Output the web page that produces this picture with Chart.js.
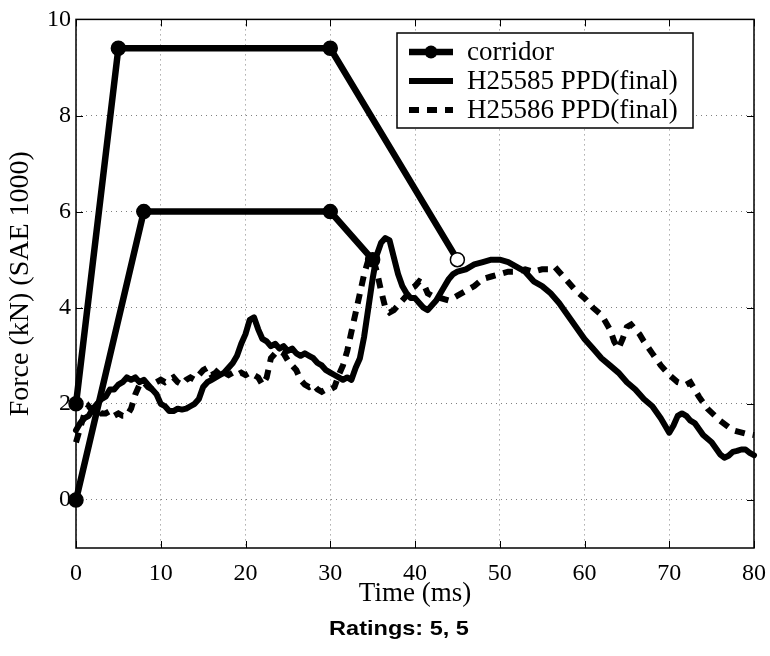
<!DOCTYPE html>
<html><head><meta charset="utf-8">
<script src="https://cdn.jsdelivr.net/npm/chart.js@4/dist/chart.umd.min.js"></script>
<style>html,body{margin:0;padding:0;background:#fff}#wrap{width:770px;height:656px}</style>
</head><body><div id="wrap"><canvas id="c" width="770" height="656"></canvas></div>
<script>
// ---------- data ----------
const corridorLowerX = [0, 8, 30, 35];
const corridorLowerY = [0, 6, 6, 5];
const corridorUpperX = [0, 5, 30, 45];
const corridorUpperY = [2, 9.4, 9.4, 5];

const timeA = [0,0.5,1,1.5,2,2.5,3,3.5,4,4.5,5,5.5,6,6.5,7,7.5,8,8.5,9,9.5,10,10.5,11,11.5,12,12.5,13,13.5,14,14.5,15,15.5,16,16.5,17,17.5,18,18.5,19,19.5,20,20.5,21,21.5,22,22.5,23,23.5,24,24.5,25,25.5,26,26.5,27,27.5,28,28.5,29,29.5,30,30.5,31,31.5,32,32.5,33,33.5,34,34.5,35,35.5,36,36.5,37,37.5,38,38.5,39,39.5,40,40.5,41,41.5,42,42.5,43,43.5,44,44.5,45,46,47,48,49,50,51,52,53,54,55,56,57,58,59,60,61,62,63,64,65,66,67,68,69,70,70.5,71,71.5,72,72.5,73,74,75,76,76.5,77,77.5,78,78.5,79,79.5,80];
const forceA = [1.45,1.6,1.7,1.75,1.9,2.0,2.1,2.15,2.3,2.3,2.4,2.45,2.55,2.5,2.55,2.45,2.5,2.4,2.3,2.2,2.0,1.95,1.85,1.85,1.9,1.88,1.9,1.95,2.0,2.1,2.35,2.45,2.5,2.55,2.6,2.65,2.75,2.85,3.0,3.25,3.45,3.75,3.8,3.55,3.35,3.3,3.2,3.25,3.15,3.2,3.1,3.15,3.05,3.0,3.05,3.0,2.95,2.85,2.8,2.7,2.65,2.6,2.55,2.5,2.55,2.5,2.75,2.95,3.4,4.0,4.6,5.1,5.35,5.45,5.4,5.05,4.7,4.45,4.3,4.2,4.2,4.1,4.0,3.95,4.05,4.15,4.3,4.45,4.6,4.7,4.75,4.8,4.9,4.95,5.0,5.0,4.95,4.85,4.75,4.55,4.45,4.3,4.1,3.85,3.6,3.35,3.15,2.95,2.8,2.65,2.45,2.3,2.1,1.95,1.7,1.4,1.55,1.75,1.8,1.75,1.65,1.6,1.35,1.2,0.95,0.88,0.92,1.0,1.02,1.05,1.05,0.98,0.93];

const timeB = [0,0.5,1,1.5,2,2.5,3,3.5,4,4.5,5,5.5,6,6.5,7,7.5,8,8.5,9,9.5,10,10.5,11,11.5,12,12.5,13,13.5,14,14.5,15,15.5,16,16.5,17,17.5,18,18.5,19,19.5,20,20.5,21,21.5,22,22.5,23,23.5,24,24.5,25,25.5,26,26.5,27,27.5,28,28.5,29,29.5,30,30.5,31,31.5,32,32.5,33,33.5,34,34.5,35,35.5,36,36.5,37,37.5,38,38.5,39,39.5,40,40.5,41,41.5,42,42.5,43,44,45,46,47,48,49,50,51,52,53,54,55,56,56.5,57,58,59,60,61,62,63,63.5,64,64.5,65,65.5,66,66.5,67,68,69,70,71,72,72.5,73,73.5,74.5,76,77.5,79,80];
const forceB = [1.2,1.5,1.8,1.95,1.85,1.9,1.8,1.8,1.85,1.75,1.8,1.75,1.75,1.9,2.2,2.4,2.45,2.35,2.3,2.45,2.5,2.45,2.5,2.55,2.45,2.4,2.5,2.55,2.5,2.6,2.7,2.75,2.6,2.65,2.75,2.65,2.6,2.65,2.6,2.65,2.6,2.65,2.6,2.55,2.4,2.55,2.95,3.05,3.1,3.05,2.9,2.8,2.7,2.5,2.4,2.35,2.4,2.3,2.25,2.3,2.3,2.35,2.6,2.8,3.1,3.5,3.9,4.3,4.7,5.0,5.05,4.75,4.35,4.0,3.9,3.95,4.05,4.15,4.25,4.4,4.45,4.55,4.5,4.3,4.25,4.2,4.2,4.15,4.25,4.35,4.45,4.6,4.65,4.7,4.75,4.75,4.8,4.75,4.8,4.8,4.85,4.75,4.55,4.35,4.2,4.0,3.85,3.55,3.3,3.15,3.35,3.6,3.65,3.55,3.45,3.3,3.05,2.8,2.6,2.45,2.4,2.45,2.3,2.15,1.9,1.65,1.45,1.38,1.35];

const xTicks = [0, 10, 20, 30, 40, 50, 60, 70, 80];
const yTicks = [0, 2, 4, 6, 8, 10];
const seriesNames = ['corridor', 'H25585 PPD(final)', 'H25586 PPD(final)'];
const xTitle = 'Time (ms)';
const yTitle = 'Force (kN) (SAE 1000)';
const ratingText = 'Ratings: 5, 5';

// ---------- build ----------
const toPts = (xs, ys) => xs.map((x, i) => ({x: x, y: ys[i]}));
const corridorPts = toPts(corridorLowerX, corridorLowerY)
  .concat([{x: corridorLowerX[corridorLowerX.length - 1], y: null}])
  .concat(toPts(corridorUpperX, corridorUpperY));
const lastCorr = corridorPts.length - 1;

const SERIF = '"Liberation Serif", "Times New Roman", serif';

const framePlugin = {
  id: 'frame',
  afterDatasetsDraw(chart) {
    const {ctx, chartArea: a, scales} = chart;
    ctx.save();
    ctx.strokeStyle = '#000';
    ctx.lineWidth = 1.5;
    ctx.strokeRect(a.left, a.top, a.right - a.left, a.bottom - a.top);
    ctx.lineWidth = 1;
    const tl = 7;
    ctx.beginPath();
    xTicks.forEach(v => {
      const px = Math.round(scales.x.getPixelForValue(v)) + 0.5;
      ctx.moveTo(px, a.bottom); ctx.lineTo(px, a.bottom - tl);
      ctx.moveTo(px, a.top); ctx.lineTo(px, a.top + tl);
    });
    yTicks.forEach(v => {
      const py = Math.round(scales.y.getPixelForValue(v)) + 0.5;
      ctx.moveTo(a.left, py); ctx.lineTo(a.left + tl, py);
      ctx.moveTo(a.right, py); ctx.lineTo(a.right - tl, py);
    });
    ctx.stroke();

    // legend box
    const bx = 397, by = 33, bw = 296, bh = 95;
    ctx.fillStyle = '#fff';
    ctx.fillRect(bx, by, bw, bh);
    ctx.lineWidth = 1.5;
    ctx.strokeRect(bx, by, bw, bh);
    const rows = [52, 81, 110];
    const sx0 = 409, sx1 = 453, tx = 467;
    chart.data.datasets.forEach((ds, i) => {
      const y = rows[i];
      ctx.save();
      ctx.strokeStyle = '#000';
      ctx.lineWidth = ds.borderWidth;
      ctx.lineCap = 'butt';
      ctx.setLineDash(ds.borderDash || []);
      ctx.beginPath(); ctx.moveTo(sx0, y); ctx.lineTo(sx1, y); ctx.stroke();
      ctx.setLineDash([]);
      if (i === 0) {
        ctx.fillStyle = '#000';
        ctx.beginPath(); ctx.arc((sx0 + sx1) / 2, y, 6.5, 0, Math.PI * 2); ctx.fill();
      }
      ctx.fillStyle = '#000';
      ctx.font = '27px ' + SERIF;
      ctx.textBaseline = 'middle';
      ctx.textAlign = 'left';
      ctx.fillText(ds.label, tx, y + 1);
      ctx.restore();
    });

    // rating caption below the axis
    ctx.save();
    ctx.fillStyle = '#000';
    ctx.font = 'bold 21px "Liberation Sans", Arial, sans-serif';
    ctx.textAlign = 'center';
    ctx.textBaseline = 'middle';
    ctx.translate(399, 629);
    ctx.scale(1.12, 1);
    ctx.fillText(ratingText, 0, 0);
    ctx.restore();
    ctx.restore();
  }
};

new Chart(document.getElementById('c'), {
  type: 'line',
  data: {
    datasets: [
      {
        label: seriesNames[0],
        data: corridorPts,
        borderColor: '#000',
        borderWidth: 6.5,
        pointRadius: 7,
        pointHoverRadius: 7,
        pointBorderWidth: 1.5,
        pointBorderColor: '#000',
        pointBackgroundColor: c => c.dataIndex === lastCorr ? '#fff' : '#000',
        spanGaps: false,
        clip: false,
        tension: 0
      },
      {
        label: seriesNames[1],
        data: toPts(timeA, forceA),
        borderColor: '#000',
        borderWidth: 6,
        borderJoinStyle: 'round',
        borderCapStyle: 'round',
        pointRadius: 0,
        tension: 0,
        clip: false
      },
      {
        label: seriesNames[2],
        data: toPts(timeB, forceB),
        borderColor: '#000',
        borderWidth: 6,
        borderDash: [10, 8],
        borderCapStyle: 'butt',
        pointRadius: 0,
        tension: 0,
        clip: false
      }
    ]
  },
  options: {
    responsive: false,
    devicePixelRatio: 1,
    animation: false,
    events: [],
    layout: {padding: {top: 14, right: 16, left: 0, bottom: 46}},
    plugins: {
      legend: {display: false},
      tooltip: {enabled: false},
      title: {display: false}
    },
    scales: {
      x: {
        type: 'linear',
        min: 0, max: 80,
        afterBuildTicks: s => { s.ticks = xTicks.map(v => ({value: v})); },
        afterFit: s => { s.height = 62; },
        ticks: {color: '#000', padding: 0, font: {family: SERIF, size: 24}, maxRotation: 0, autoSkip: false},
        grid: {color: '#808080', lineWidth: 1, drawTicks: true, tickLength: 11, tickColor: 'rgba(0,0,0,0)'},
        border: {display: false, dash: [1, 4]},
        title: {display: true, text: xTitle, color: '#000', font: {family: SERIF, size: 27, lineHeight: 1.2}, padding: {top: 0, bottom: 0}}
      },
      y: {
        type: 'linear',
        min: -1, max: 10,
        afterBuildTicks: s => { s.ticks = yTicks.map(v => ({value: v})); },
        afterFit: s => { s.width = 76; },
        ticks: {color: '#000', padding: 5, font: {family: SERIF, size: 24}, autoSkip: false},
        grid: {color: '#808080', lineWidth: 1, drawTicks: false},
        border: {display: false, dash: [1, 4]},
        title: {display: true, text: yTitle, color: '#000', font: {family: SERIF, size: 28, lineHeight: 1.2}, padding: {top: 4, bottom: 0}}
      }
    }
  },
  plugins: [framePlugin]
});
</script>
</body></html>
